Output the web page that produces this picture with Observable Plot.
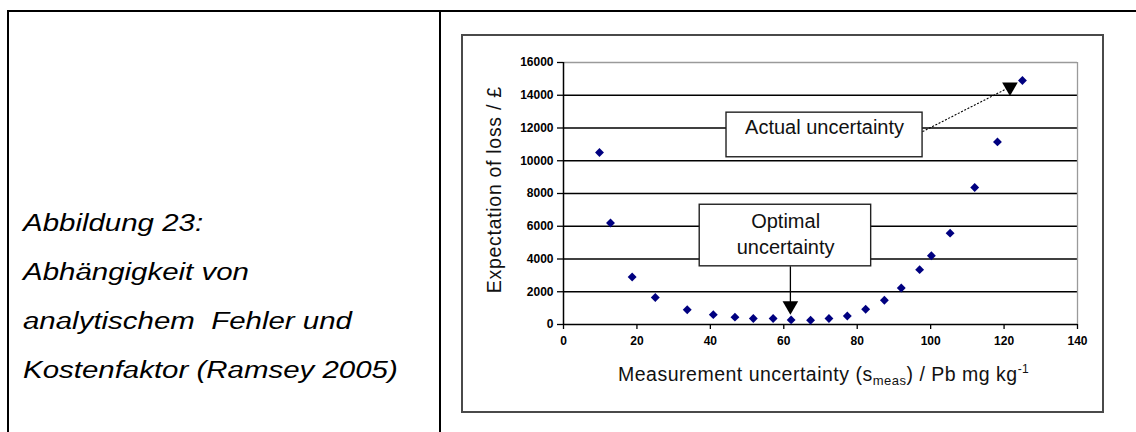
<!DOCTYPE html>
<html>
<head>
<meta charset="utf-8">
<script src="https://cdn.jsdelivr.net/npm/d3@7"></script>
<script src="https://cdn.jsdelivr.net/npm/@observablehq/plot@0.6"></script>
<style>
  html, body { margin: 0; padding: 0; background: #fff; width: 1136px; height: 432px; overflow: hidden; }
  #page { position: relative; width: 1136px; height: 432px; overflow: hidden; font-family: "Liberation Sans", Arial, sans-serif; }
  #outer { position: absolute; left: 7px; top: 10px; width: 1200px; height: 500px; border-left: 2px solid #000; border-top: 2px solid #000; }
  #divider { position: absolute; left: 439px; top: 10px; width: 2px; height: 430px; background: #000; }
  #caption { position: absolute; left: 23px; top: 198.5px; font-style: italic; font-size: 23px; line-height: 49px; white-space: pre; transform: scaleX(1.28); transform-origin: 0 0; color: #000; }
  #chartbox { position: absolute; left: 461px; top: 34px; width: 643px; height: 379px; box-sizing: border-box; border: 2px solid #4a4a4a; }
  #chart { position: absolute; left: 462px; top: 35px; }
</style>
</head>
<body>
<div id="page">
  <div id="outer"></div>
  <div id="divider"></div>
  <div id="caption"></div>
  <div id="chartbox"></div>
  <div id="chart"></div>
</div>
<script>
// ---- data ----
const captionLines = ["Abbildung 23:", "Abhängigkeit von", "analytischem  Fehler und", "Kostenfaktor (Ramsey 2005)"];

const uncertainty = [9.8, 12.8, 18.7, 25.0, 33.7, 40.8, 46.7, 51.7, 57.1, 62.0, 67.3, 72.3, 77.3, 82.3, 87.4, 92.0, 97.0, 100.2, 105.3, 112.0, 118.2, 125.0];
const expectedLoss = [10500, 6200, 2900, 1650, 900, 600, 450, 370, 370, 280, 260, 370, 520, 930, 1480, 2230, 3350, 4200, 5580, 8370, 11150, 14900];

const xTicks = [0, 20, 40, 60, 80, 100, 120, 140];
const yTicks = [0, 2000, 4000, 6000, 8000, 10000, 12000, 14000, 16000];
const gridLevels = [2000, 4000, 6000, 8000, 10000, 12000, 14000];

const xTitle = "Measurement uncertainty (s";
const xTitleSub = "meas";
const xTitleRest = ") / Pb mg kg";
const xTitleSup = "-1";
const yTitle = "Expectation of loss / £";

// annotations (in data units)
const annotLabels = ["Actual uncertainty", "Optimal\nuncertainty"];
const annotLabelX = [71.1, 60.5];
const annotLabelY = [12127, 5625];
const annotBoxX1 = [44.4, 37.1];
const annotBoxX2 = [97.8, 83.8];
const annotBoxY1 = [10213, 3553];
const annotBoxY2 = [12937, 7313];
// arrows: start -> head
const arrowX1 = [97.8, 61.8];
const arrowY1 = [11779, 3553];
const arrowX2 = [121.6, 61.8];
const arrowY2 = [14500, 1150];
const arrowDash = ["2,1.6", null];

// ---- build ----
document.getElementById("caption").textContent = captionLines.join("\n");

const points = uncertainty.map((u, i) => ({u, loss: expectedLoss[i]}));
const boxes = annotBoxX1.map((d, i) => ({x1: d, x2: annotBoxX2[i], y1: annotBoxY1[i], y2: annotBoxY2[i]}));
const labels = annotLabels.map((t, i) => ({t, x: annotLabelX[i], y: annotLabelY[i]}));
const arrows = arrowX1.map((d, i) => ({x1: d, y1: arrowY1[i], x2: arrowX2[i], y2: arrowY2[i], dash: arrowDash[i]}));

const downTriangle = {
  draw(context, size) {
    const y = Math.sqrt(size / (3 * Math.sqrt(3)));
    context.moveTo(0, 2 * y);
    context.lineTo(-Math.sqrt(3) * y, -y);
    context.lineTo(Math.sqrt(3) * y, -y);
    context.closePath();
  }
};

const W = 641, H = 377;
const plot = Plot.plot({
  width: W,
  height: H,
  marginLeft: 101,
  marginRight: 26,
  marginTop: 27,
  marginBottom: 88,
  x: {domain: [0, 140], label: null},
  y: {domain: [0, 16000], label: null},
  style: {
    fontFamily: "'Liberation Sans', Arial, sans-serif",
    fontSize: "12px",
    fontWeight: "bold",
    background: "transparent",
    color: "#000",
    overflow: "visible"
  },
  marks: [
    Plot.ruleY(gridLevels, {stroke: "#000", strokeWidth: 1.4}),
    Plot.ruleY([16000], {stroke: "#9a9a9a", strokeWidth: 1.3}),
    Plot.ruleX([140], {stroke: "#9a9a9a", strokeWidth: 1.3}),
    Plot.ruleX([0], {stroke: "#000", strokeWidth: 1.5}),
    Plot.ruleY([0], {stroke: "#000", strokeWidth: 1.5}),
    Plot.axisY({ticks: yTicks, tickSize: 6, tickPadding: 4, tickFormat: d3.format("d"), label: null, stroke: "#000", strokeWidth: 1.3}),
    Plot.axisX({ticks: xTicks, tickSize: 5, tickPadding: 7, tickFormat: d3.format("d"), label: null, stroke: "#000", strokeWidth: 1.3}),
    Plot.rect(boxes, {x1: "x1", x2: "x2", y1: "y1", y2: "y2", fill: "#fff", stroke: "#222", strokeWidth: 1.4}),
    Plot.link(arrows.filter(d => d.dash), {x1: "x1", y1: "y1", x2: "x2", y2: "y2", stroke: "#000", strokeWidth: 1.1, strokeDasharray: "2,1.6"}),
    Plot.link(arrows.filter(d => !d.dash), {x1: "x1", y1: "y1", x2: "x2", y2: "y2", stroke: "#000", strokeWidth: 1.3}),
    Plot.dot(points, {x: "u", y: "loss", symbol: "diamond2", r: 4, fill: "#000080"}),
    Plot.dot(arrows, {x: "x2", y: "y2", symbol: downTriangle, r: 5.8, fill: "#000"}),
    Plot.text(labels, {x: "x", y: "y", text: "t", fontSize: 20, lineHeight: 1.33, fontWeight: "normal", fill: "#111"})
  ]
});

document.getElementById("chart").appendChild(plot);

// axis titles with sub/superscript
const svg = d3.select(plot);
const xs = plot.scale("x"), ys = plot.scale("y");
const xt = svg.append("text")
  .attr("x", xs.apply(71))
  .attr("y", ys.apply(0) + 56.5)
  .attr("text-anchor", "middle")
  .attr("font-size", 19.5)
  .attr("font-weight", "normal")
  .attr("letter-spacing", "0.5px")
  .attr("fill", "#111");
xt.append("tspan").text(xTitle);
xt.append("tspan").attr("font-size", 13).attr("dy", 4).text(xTitleSub);
xt.append("tspan").attr("dy", -4).text(xTitleRest);
xt.append("tspan").attr("font-size", 12).attr("dy", -8).text(xTitleSup);

svg.append("text")
  .attr("transform", `translate(38.5,${ys.apply(8200)}) rotate(-90)`)
  .attr("text-anchor", "middle")
  .attr("font-size", 19.5)
  .attr("font-weight", "normal")
  .attr("letter-spacing", "0.7px")
  .attr("fill", "#111")
  .text(yTitle);
</script>
</body>
</html>
